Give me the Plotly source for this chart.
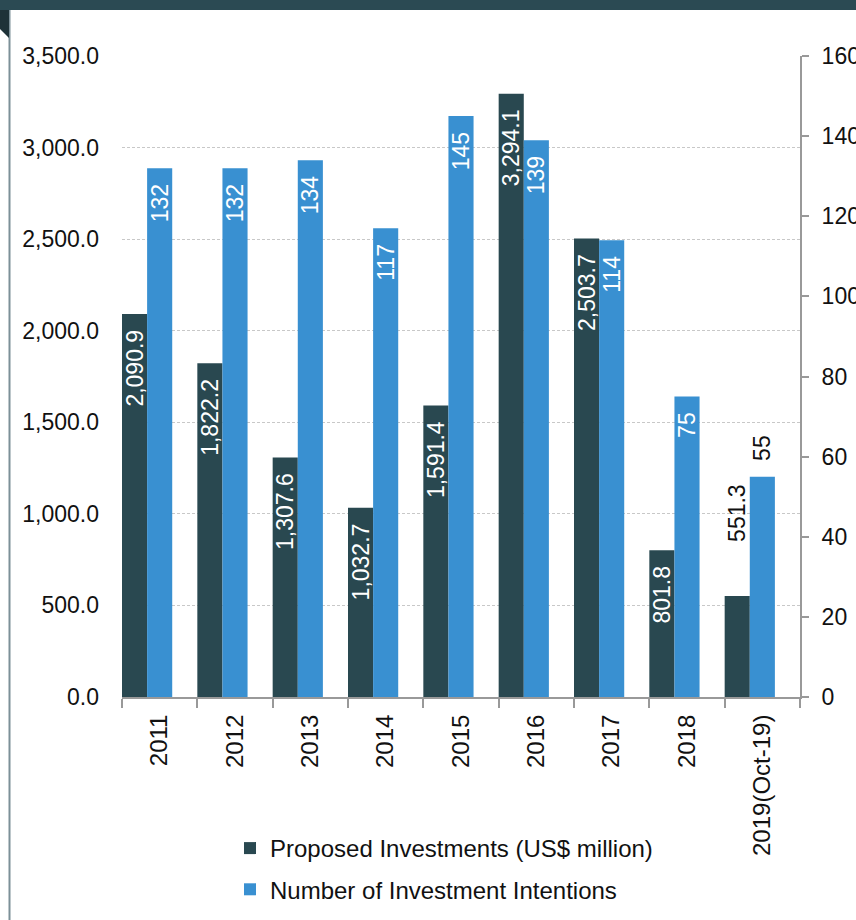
import plotly.graph_objects as go

categories = ["2011", "2012", "2013", "2014", "2015", "2016", "2017", "2018", "2019(Oct-19)"]
proposed_investments = [2090.9, 1822.2, 1307.6, 1032.7, 1591.4, 3294.1, 2503.7, 801.8, 551.3]
investment_intentions = [132, 132, 134, 117, 145, 139, 114, 75, 55]

DARK = "#294850"
BLUE = "#3990D1"
FONT = "Liberation Sans, Arial, sans-serif"

# label positions: the last (partial-year) values sit outside the bars
n = len(categories)
positions = ["inside"] * (n - 1) + ["outside"]
NB = "\u00a0"

def pad(label, pos, inside_pad, outside_pad):
    return label + NB * inside_pad if pos == "inside" else NB * outside_pad + label

dark_text = [pad(f"{v:,.1f}", p, 2, 8) for v, p in zip(proposed_investments, positions)]
blue_text = [pad(f"{v:d}", p, 2, 2) for v, p in zip(investment_intentions, positions)]

fig = go.Figure()
fig.add_trace(go.Bar(
    x=categories, y=proposed_investments, name="Proposed Investments (US$ million)",
    marker=dict(color=DARK, line=dict(width=0)),
    offset=-0.5, width=1/3,
    text=dark_text, textposition=positions, textangle=-90,
    insidetextanchor="end", constraintext="none", cliponaxis=False,
    insidetextfont=dict(color="white", size=23, family=FONT),
    outsidetextfont=dict(color="#111111", size=23, family=FONT),
    legendgroup="a", yaxis="y", hoverinfo="skip",
))
fig.add_trace(go.Bar(
    x=categories, y=investment_intentions, name="Number of Investment Intentions",
    marker=dict(color=BLUE, line=dict(width=0)),
    offset=-0.5 + 1/3, width=1/3,
    text=blue_text, textposition=positions, textangle=-90,
    insidetextanchor="end", constraintext="none", cliponaxis=False,
    insidetextfont=dict(color="white", size=23, family=FONT),
    outsidetextfont=dict(color="#111111", size=23, family=FONT),
    legendgroup="b", yaxis="y2", hoverinfo="skip",
))

L, R, T, B = 122, 56, 56, 223
W, H = 856, 920
pw, ph = W - L - R, H - T - B

def px_x(px):
    return (px - L) / pw

def px_y(py):
    return (H - B - py) / ph

shapes = [
    # top header band
    dict(type="rect", xref="paper", yref="paper", x0=px_x(0), x1=px_x(W), y0=px_y(10), y1=px_y(0),
         fillcolor="#2B4A53", line=dict(width=0), layer="above"),
    # left frame line
    dict(type="line", xref="paper", yref="paper", x0=px_x(9.5), x1=px_x(9.5), y0=px_y(H), y1=px_y(10),
         line=dict(color="#7C9098", width=2)),
    # small corner tab
    dict(type="path", xref="paper", yref="paper",
         path=f"M {px_x(0)},{px_y(10)} L {px_x(9)},{px_y(10)} L {px_x(9)},{px_y(38)} L {px_x(0)},{px_y(29)} Z",
         fillcolor="#1E3238", line=dict(width=0)),
]

fig.update_layout(
    width=W, height=H,
    margin=dict(l=L, r=R, t=T, b=B, pad=0, autoexpand=False),
    paper_bgcolor="white", plot_bgcolor="white",
    font=dict(family=FONT, size=23, color="#111111"),
    barmode="overlay",
    showlegend=True,
    legend=dict(
        x=px_x(230), y=px_y(826), xanchor="left", yanchor="top",
        orientation="v", tracegroupgap=7,
        font=dict(size=24, family=FONT, color="#111111"),
        bgcolor="rgba(0,0,0,0)",
    ),
    xaxis=dict(
        type="category", range=[-0.5, n - 0.5], automargin=False,
        showline=True, linecolor="#999999", linewidth=2,
        ticks="outside", tickson="boundaries", ticklen=9, tickcolor="#999999", tickwidth=2,
        tickangle=-90, tickfont=dict(size=24, color="#111111"), ticklabelstandoff=6,
        showgrid=False, fixedrange=True,
    ),
    yaxis=dict(
        range=[0, 3500], dtick=500, tickformat=",.1f", automargin=False,
        showline=False, ticks="", ticklabelstandoff=22,
        showgrid=True, gridcolor="#C8C8C8", gridwidth=1, griddash="3px,2px",
        zeroline=False, tickfont=dict(size=23, color="#111111"),
    ),
    yaxis2=dict(
        range=[0, 160], dtick=20, overlaying="y", side="right", automargin=False,
        showline=True, linecolor="#999999", linewidth=2,
        ticks="outside", ticklen=7, tickcolor="#999999", tickwidth=2, ticklabelstandoff=8,
        showgrid=False, zeroline=False, tickfont=dict(size=23, color="#111111"),
    ),
    shapes=shapes,
)

fig.write_html(
    "out.html",
    config={"displayModeBar": False, "staticPlot": True},
    post_script="document.body.style.margin='0';document.body.style.overflow='hidden';",
)
